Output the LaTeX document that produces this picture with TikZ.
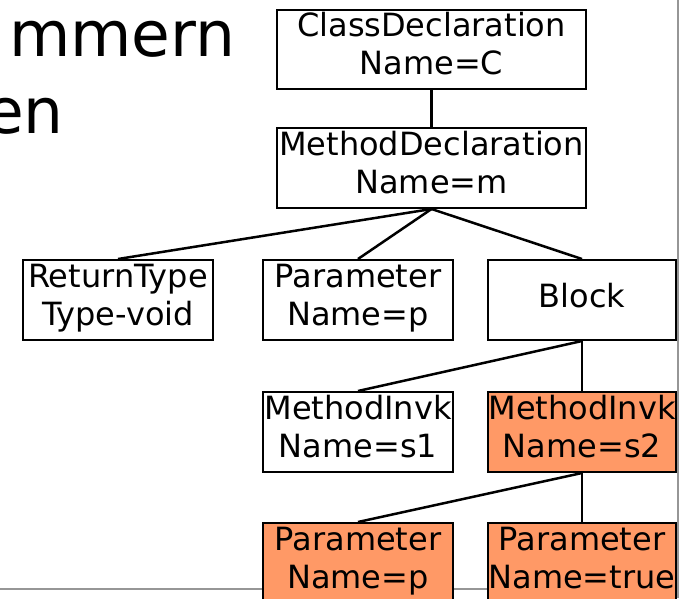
\documentclass[tikz,border=0pt]{standalone}
\usepackage{fontspec}
\setmainfont{DejaVu Sans}
\definecolor{nodeorange}{RGB}{255,153,102}
\definecolor{framegray}{RGB}{150,150,150}
\begin{document}
\begin{tikzpicture}[x=1pt,y=-1pt,
  box/.style={draw=black, line width=2pt, minimum width=#1, minimum height=80pt,
    inner sep=0pt, align=center, font=\fontsize{32}{38}\selectfont,
    text height=64pt, text depth=14pt},
  box/.default=190pt,
  hot/.style={fill=nodeorange},
  edge/.style={draw=black, line width=2.5pt},
  frame/.style={draw=framegray, line width=2pt},
  title/.style={anchor=base west, inner sep=0pt, font=\fontsize{63}{76}\selectfont}]
\useasboundingbox (0,0) rectangle (681,598);
\clip (0,0) rectangle (681,598);
\node[title] (t1) at (9,56) {mmern};
\node[title] (t2) at (-15,133) {en};
\coordinate (hl) at (0,588.5);
\coordinate (hr) at (678,588.5);
\coordinate (vt) at (678,0);
\coordinate (vb) at (678,598);
\draw[frame] (hl) -- (hr);
\draw[frame] (vt) -- (vb);
\node[box=309pt, minimum height=79pt] (cd) at (431.5,49.5) {ClassDeclaration\\Name=C};
\node[box=309pt] (md) at (431.5,168) {MethodDeclaration\\Name=m};
\node[box] (rt) at (118,300) {ReturnType\\Type-void};
\node[box] (par) at (358,300) {Parameter\\Name=p};
\node[box=188pt, text height=24pt, text depth=10pt] (blk) at (582,300) {Block};
\node[box] (mi1) at (358,432) {MethodInvk\\Name=s1};
\node[box=188pt, hot] (mi2) at (582,432) {MethodInvk\\Name=s2};
\node[box, hot] (p1) at (358,563) {Parameter\\Name=p};
\node[box=188pt, hot] (p2) at (582,563) {Parameter\\Name=true};
\draw[edge] (cd.south) -- (md.north);
\draw[edge] (md.south) -- (rt.north);
\draw[edge] (md.south) -- (par.north);
\draw[edge] (md.south) -- (blk.north);
\draw[edge] (blk.south) -- (mi1.north);
\draw[edge] (blk.south) -- (mi2.north);
\draw[edge] (mi2.south) -- (p1.north);
\draw[edge] (mi2.south) -- (p2.north);
\end{tikzpicture}
\end{document}
